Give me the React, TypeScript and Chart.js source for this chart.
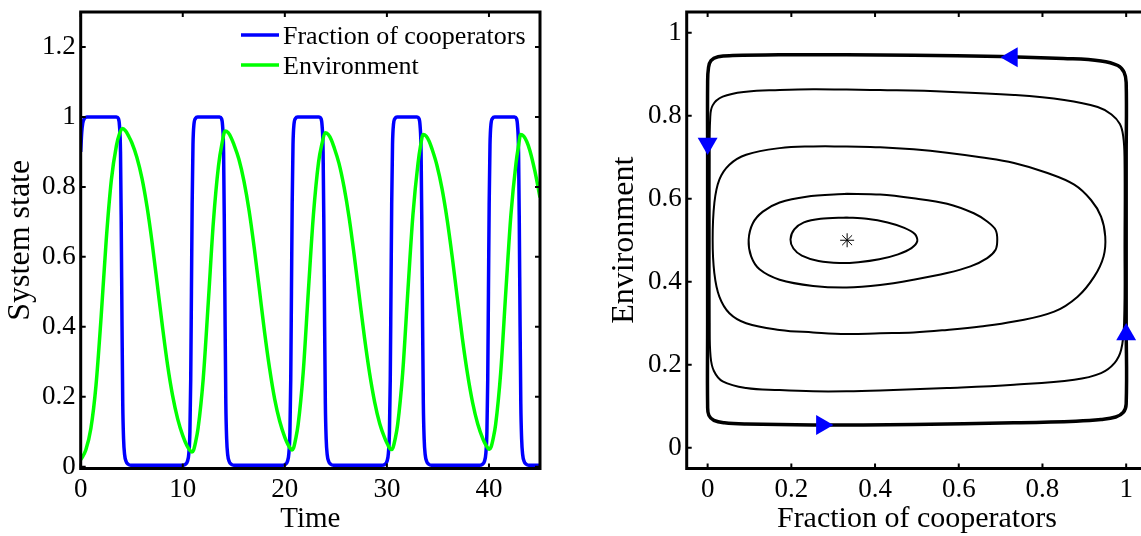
import React, { useEffect, useRef } from 'react';
import Chart from 'chart.js/auto';

const SERIF = '"Liberation Serif", "Times New Roman", serif';

// ---------- Left panel: time series ----------
const timeTicks = [0, 10, 20, 30, 40];
const stateTicks = [0, 0.2, 0.4, 0.6, 0.8, 1, 1.2];

const cooperatorTime = [
  0, 0.1, 0.2, 0.35, 0.6, 3.5, 3.7, 3.8, 3.9, 3.97, 4.05, 4.12, 4.2, 4.3, 4.45, 4.65, 4.9,
  9.95, 10.25, 10.45, 10.6, 10.7, 10.78, 10.85, 10.92, 11.0, 11.1, 11.25, 11.45,
  13.6, 13.8, 13.9, 14.0, 14.07, 14.15, 14.22, 14.3, 14.4, 14.55, 14.75, 15.0,
  19.75, 20.05, 20.25, 20.4, 20.5, 20.58, 20.65, 20.72, 20.8, 20.9, 21.05, 21.25,
  23.35, 23.55, 23.65, 23.75, 23.82, 23.9, 23.97, 24.05, 24.15, 24.3, 24.5, 24.75,
  29.5, 29.8, 30.0, 30.15, 30.25, 30.33, 30.4, 30.47, 30.55, 30.65, 30.8, 31.0,
  32.95, 33.15, 33.25, 33.35, 33.42, 33.5, 33.57, 33.65, 33.75, 33.9, 34.1, 34.35,
  39.05, 39.35, 39.55, 39.7, 39.8, 39.88, 39.95, 40.02, 40.1, 40.2, 40.35, 40.55,
  42.5, 42.7, 42.8, 42.9, 42.97, 43.05, 43.12, 43.2, 43.3, 43.45, 43.65, 43.9, 45,
];
const cooperatorValue = [
  0.9, 0.955, 0.982, 0.995, 1, 1, 0.995, 0.975, 0.9, 0.7, 0.4, 0.18, 0.08, 0.035, 0.015, 0.007, 0.004,
  0.004, 0.007, 0.015, 0.04, 0.1, 0.25, 0.5, 0.75, 0.92, 0.98, 0.996, 1,
  1, 0.995, 0.975, 0.9, 0.7, 0.4, 0.18, 0.08, 0.035, 0.015, 0.007, 0.004,
  0.004, 0.007, 0.015, 0.04, 0.1, 0.25, 0.5, 0.75, 0.92, 0.98, 0.996, 1,
  1, 0.995, 0.975, 0.9, 0.7, 0.4, 0.18, 0.08, 0.035, 0.015, 0.007, 0.004,
  0.004, 0.007, 0.015, 0.04, 0.1, 0.25, 0.5, 0.75, 0.92, 0.98, 0.996, 1,
  1, 0.995, 0.975, 0.9, 0.7, 0.4, 0.18, 0.08, 0.035, 0.015, 0.007, 0.004,
  0.004, 0.007, 0.015, 0.04, 0.1, 0.25, 0.5, 0.75, 0.92, 0.98, 0.996, 1,
  1, 0.995, 0.975, 0.9, 0.7, 0.4, 0.18, 0.08, 0.035, 0.015, 0.007, 0.004, 0.004,
];

const environmentTime = [
  0, 0.5, 1.0, 1.5, 2.0, 2.5, 3.0, 3.5, 3.8, 4.1, 4.4, 4.7, 5.0, 5.5, 6.0, 6.5, 7.0, 7.5, 8.0, 8.5, 9.0, 9.5, 10.0, 10.4, 10.7, 10.9,
  11.05, 11.25, 11.5, 12.0, 12.5, 13.0, 13.5, 13.85, 14.15,
  14.45, 14.75, 15.0, 15.5, 16.0, 16.5, 17.0, 17.5, 18.0, 18.5, 19.0, 19.5, 20.0, 20.3, 20.55, 20.7,
  20.85, 21.05, 21.3, 21.8, 22.3, 22.8, 23.3, 23.65, 23.95,
  24.25, 24.55, 24.8, 25.3, 25.8, 26.3, 26.8, 27.3, 27.8, 28.3, 28.8, 29.3, 29.8, 30.1, 30.3, 30.45,
  30.6, 30.8, 31.05, 31.55, 32.05, 32.55, 33.05, 33.3, 33.55,
  33.85, 34.15, 34.4, 34.9, 35.4, 35.9, 36.4, 36.9, 37.4, 37.9, 38.4, 38.9, 39.4, 39.7, 39.9, 40.05,
  40.2, 40.4, 40.65, 41.15, 41.65, 42.15, 42.65, 42.9, 43.1,
  43.4, 43.7, 44.0, 44.5, 45.0,
];
const environmentValue = [
  0.02, 0.048, 0.11, 0.233, 0.428, 0.648, 0.819, 0.918, 0.952, 0.967, 0.96, 0.945, 0.927, 0.885, 0.825, 0.743, 0.64, 0.522, 0.403, 0.293, 0.204, 0.137, 0.089, 0.061, 0.047, 0.042,
  0.047, 0.07, 0.11, 0.25, 0.47, 0.7, 0.86, 0.925, 0.96,
  0.955, 0.94, 0.922, 0.879, 0.816, 0.732, 0.626, 0.508, 0.388, 0.282, 0.194, 0.13, 0.084, 0.064, 0.052, 0.048,
  0.053, 0.078, 0.12, 0.27, 0.5, 0.72, 0.87, 0.925, 0.955,
  0.95, 0.935, 0.915, 0.868, 0.8, 0.712, 0.604, 0.486, 0.37, 0.268, 0.185, 0.123, 0.081, 0.062, 0.052, 0.049,
  0.055, 0.078, 0.12, 0.27, 0.5, 0.72, 0.868, 0.918, 0.95,
  0.945, 0.93, 0.91, 0.862, 0.795, 0.707, 0.6, 0.482, 0.366, 0.265, 0.183, 0.122, 0.08, 0.062, 0.053, 0.05,
  0.056, 0.079, 0.12, 0.27, 0.5, 0.72, 0.868, 0.918, 0.95,
  0.945, 0.93, 0.905, 0.845, 0.77,
];

// ---------- Right panel: phase plane ----------
const phaseTicks = [0, 0.2, 0.4, 0.6, 0.8, 1];

const orbit1X = [0.332, 0.27, 0.23, 0.207, 0.198, 0.205, 0.225, 0.265, 0.315, 0.36, 0.41, 0.455, 0.487, 0.501, 0.495, 0.47, 0.43, 0.38, 0.332];
const orbit1Y = [0.555, 0.552, 0.543, 0.526, 0.502, 0.48, 0.463, 0.45, 0.445, 0.447, 0.454, 0.466, 0.481, 0.498, 0.515, 0.53, 0.543, 0.552, 0.555];

const orbit2X = [0.332, 0.236, 0.172, 0.132, 0.108, 0.098, 0.104, 0.124, 0.172, 0.252, 0.332, 0.412, 0.492, 0.572, 0.628, 0.668, 0.688, 0.692, 0.688, 0.668, 0.636, 0.572, 0.492, 0.412, 0.332];
const orbit2Y = [0.612, 0.605, 0.591, 0.569, 0.541, 0.501, 0.461, 0.43, 0.405, 0.39, 0.386, 0.392, 0.405, 0.421, 0.437, 0.457, 0.477, 0.501, 0.525, 0.545, 0.565, 0.588, 0.601, 0.61, 0.612];

const orbit3X = [0.332, 0.252, 0.172, 0.092, 0.052, 0.028, 0.016, 0.012, 0.016, 0.028, 0.052, 0.092, 0.172, 0.252, 0.332, 0.412, 0.492, 0.572, 0.652, 0.732, 0.828, 0.884, 0.924, 0.946, 0.95, 0.94, 0.916, 0.876, 0.812, 0.732, 0.652, 0.572, 0.492, 0.412, 0.332];
const orbit3Y = [0.726, 0.726, 0.722, 0.706, 0.682, 0.646, 0.589, 0.501, 0.421, 0.364, 0.324, 0.3, 0.284, 0.278, 0.274, 0.276, 0.278, 0.284, 0.292, 0.304, 0.328, 0.364, 0.413, 0.461, 0.509, 0.557, 0.597, 0.634, 0.662, 0.686, 0.7, 0.711, 0.719, 0.724, 0.726];

const orbit4X = [0.332, 0.252, 0.172, 0.092, 0.036, 0.012, 0.006, 0.005, 0.005, 0.005, 0.007, 0.015, 0.036, 0.092, 0.172, 0.252, 0.332, 0.412, 0.572, 0.732, 0.876, 0.94, 0.972, 0.988, 0.995, 0.996, 0.996, 0.993, 0.985, 0.965, 0.932, 0.852, 0.732, 0.572, 0.412, 0.332];
const orbit4Y = [0.863, 0.864, 0.862, 0.858, 0.846, 0.825, 0.79, 0.7, 0.5, 0.3, 0.22, 0.185, 0.16, 0.144, 0.139, 0.136, 0.136, 0.138, 0.144, 0.152, 0.164, 0.18, 0.204, 0.236, 0.3, 0.5, 0.7, 0.75, 0.78, 0.803, 0.821, 0.838, 0.85, 0.858, 0.862, 0.863];

const orbit5X = [0.332, 0.172, 0.06, 0.025, 0.008, 0.002, 0.0, 0.0, 0.0, 0.0, 0.0, 0.003, 0.015, 0.04, 0.092, 0.252, 0.492, 0.732, 0.88, 0.94, 0.975, 0.993, 1.0, 1.0, 1.0, 1.0, 1.0, 0.995, 0.98, 0.94, 0.85, 0.7, 0.492, 0.332];
const orbit5Y = [0.947, 0.947, 0.945, 0.942, 0.933, 0.915, 0.88, 0.7, 0.5, 0.3, 0.1, 0.078, 0.066, 0.06, 0.057, 0.055, 0.056, 0.06, 0.064, 0.068, 0.074, 0.085, 0.105, 0.3, 0.5, 0.7, 0.88, 0.905, 0.921, 0.932, 0.938, 0.943, 0.946, 0.947];

const arrowX = [0.727, 0.0, 0.273, 1.0];
const arrowY = [0.941, 0.733, 0.055, 0.273];
const arrowRotation = [270, 180, 90, 0];

const fixedPointX = [0.3333];
const fixedPointY = [0.5];

// ---------- helpers ----------
const zip = (xs: number[], ys: number[]) => xs.map((x, i) => ({ x, y: ys[i] }));

const W = 1141;
const H = 536;
const PLOT_TOP = 12;
const PLOT_BOTTOM = 468.5;

const boxPlugin = {
  id: 'matlabBox',
  afterDatasetsDraw(chart: any) {
    const { ctx, chartArea: a, scales } = chart;
    ctx.save();
    ctx.strokeStyle = '#000';
    ctx.lineWidth = 3;
    ctx.strokeRect(a.left, a.top, a.right - a.left, a.bottom - a.top);
    ctx.lineWidth = 2;
    const len = 5;
    ctx.beginPath();
    scales.x.ticks.forEach((t: any) => {
      const p = scales.x.getPixelForValue(t.value);
      ctx.moveTo(p, a.bottom);
      ctx.lineTo(p, a.bottom - len);
      ctx.moveTo(p, a.top);
      ctx.lineTo(p, a.top + len);
    });
    scales.y.ticks.forEach((t: any) => {
      const p = scales.y.getPixelForValue(t.value);
      ctx.moveTo(a.left, p);
      ctx.lineTo(a.left + len, p);
      ctx.moveTo(a.right, p);
      ctx.lineTo(a.right - len, p);
    });
    ctx.stroke();
    ctx.restore();
  },
};

const legendPlugin = {
  id: 'inlineLegend',
  afterDraw(chart: any) {
    const { ctx, chartArea: a } = chart;
    const items = chart.data.datasets
      .filter((d: any) => d.label)
      .map((d: any) => ({ text: d.label, color: d.borderColor }));
    ctx.save();
    ctx.font = `26px ${SERIF}`;
    ctx.textBaseline = 'alphabetic';
    ctx.textAlign = 'left';
    items.forEach((it: any, i: number) => {
      const y = a.top + 23 + i * 30;
      const x0 = a.left + 160.3;
      ctx.strokeStyle = it.color;
      ctx.lineWidth = 3.5;
      ctx.beginPath();
      ctx.moveTo(x0, y);
      ctx.lineTo(x0 + 38, y);
      ctx.stroke();
      ctx.fillStyle = '#000';
      ctx.fillText(it.text, x0 + 42, y + 8.6);
    });
    ctx.restore();
  },
};

function axis(opts: {
  min: number;
  max: number;
  ticks: number[];
  title: string;
  horizontal: boolean;
  size: number;
  titleSize: number;
  titlePad: number;
}) {
  return {
    type: 'linear' as const,
    position: opts.horizontal ? ('bottom' as const) : ('left' as const),
    min: opts.min,
    max: opts.max,
    afterBuildTicks: (s: any) => {
      s.ticks = opts.ticks.map((v) => ({ value: v }));
    },
    afterFit: (s: any) => {
      if (opts.horizontal) s.height = opts.size;
      else s.width = opts.size;
      s.paddingTop = 0;
      s.paddingBottom = 0;
      s.paddingLeft = 0;
      s.paddingRight = 0;
    },
    grid: { display: false, drawTicks: false },
    border: { display: false },
    ticks: {
      color: '#000',
      font: { family: SERIF, size: 27 },
      padding: 5,
      maxRotation: 0,
      autoSkip: false,
      callback: (v: any) => String(v),
    },
    title: {
      display: true,
      text: opts.title,
      color: '#000',
      font: { family: SERIF, size: opts.titleSize, lineHeight: 1 },
      padding: opts.horizontal ? { top: 0, bottom: opts.titlePad } : { top: opts.titlePad, bottom: 0 },
    },
  };
}

export default function App() {
  const leftRef = useRef<HTMLCanvasElement>(null);
  const rightRef = useRef<HTMLCanvasElement>(null);

  useEffect(() => {
    Chart.defaults.font.family = SERIF;

    const left = new Chart(leftRef.current as HTMLCanvasElement, {
      type: 'scatter',
      data: {
        datasets: [
          {
            label: 'Fraction of cooperators',
            data: zip(cooperatorTime, cooperatorValue),
            showLine: true,
            borderColor: '#0000ff',
            backgroundColor: '#0000ff',
            borderWidth: 3.5,
            pointRadius: 0,
            cubicInterpolationMode: 'monotone',
            order: 1,
          },
          {
            label: 'Environment',
            data: zip(environmentTime, environmentValue),
            showLine: true,
            borderColor: '#00ff00',
            backgroundColor: '#00ff00',
            borderWidth: 3.5,
            pointRadius: 0,
            cubicInterpolationMode: 'monotone',
            order: 0,
          },
        ],
      },
      options: {
        responsive: false,
        animation: false,
        events: [],
        layout: { padding: { top: PLOT_TOP, right: 590 - 540, left: 0, bottom: 0 } },
        plugins: { legend: { display: false }, tooltip: { enabled: false } },
        scales: {
          x: axis({ min: 0, max: 45, ticks: timeTicks, title: 'Time', horizontal: true, size: H - PLOT_BOTTOM, titleSize: 29, titlePad: 1.8 }),
          y: axis({ min: -0.005, max: 1.3, ticks: stateTicks, title: 'System state', horizontal: false, size: 80.7, titleSize: 32, titlePad: 4.5 }),
        },
      } as any,
      plugins: [boxPlugin, legendPlugin],
    });

    const orbitStyle = (pts: { x: number; y: number }[], width: number, tension: number) => ({
      data: pts,
      showLine: true,
      borderColor: '#000',
      backgroundColor: '#000',
      borderWidth: width,
      pointRadius: 0,
      tension,
      order: 2,
    });

    const right = new Chart(rightRef.current as HTMLCanvasElement, {
      type: 'scatter',
      data: {
        datasets: [
          orbitStyle(zip(orbit1X, orbit1Y), 2, 0.3),
          orbitStyle(zip(orbit2X, orbit2Y), 2, 0.3),
          orbitStyle(zip(orbit3X, orbit3Y), 2, 0.4),
          orbitStyle(zip(orbit4X, orbit4Y), 2, 0.4),
          orbitStyle(zip(orbit5X, orbit5Y), 3.5, 0.4),
          {
            data: zip(arrowX, arrowY),
            showLine: false,
            pointStyle: 'triangle',
            rotation: arrowRotation,
            pointRadius: 11.5,
            backgroundColor: '#0000ff',
            borderColor: '#0000ff',
            borderWidth: 0,
            order: 0,
          },
          {
            data: zip(fixedPointX, fixedPointY),
            showLine: false,
            pointStyle: 'star',
            pointRadius: 7,
            borderColor: '#000',
            backgroundColor: '#000',
            borderWidth: 1,
            order: 0,
          },
        ],
      },
      options: {
        responsive: false,
        animation: false,
        events: [],
        layout: { padding: { top: PLOT_TOP, right: 12.9, left: 0, bottom: 0 } },
        plugins: { legend: { display: false }, tooltip: { enabled: false } },
        scales: {
          x: axis({ min: -0.05, max: 1.05, ticks: phaseTicks, title: 'Fraction of cooperators', horizontal: true, size: H - PLOT_BOTTOM, titleSize: 30, titlePad: 1.8 }),
          y: axis({ min: -0.05, max: 1.05, ticks: phaseTicks, title: 'Environment', horizontal: false, size: 86.7, titleSize: 32, titlePad: 9 }),
        },
      } as any,
      plugins: [boxPlugin],
    });

    return () => {
      left.destroy();
      right.destroy();
    };
  }, []);

  return (
    <div style={{ position: 'fixed', left: 0, top: 0, width: W, height: H, overflow: 'hidden', background: '#fff' }}>
      <div style={{ position: 'absolute', left: 0, top: 0, width: 590, height: H }}>
        <canvas ref={leftRef} width={590} height={H} style={{ display: 'block', width: 590, height: H }} />
      </div>
      <div style={{ position: 'absolute', left: 600, top: 0, width: 560, height: H }}>
        <canvas ref={rightRef} width={560} height={H} style={{ display: 'block', width: 560, height: H }} />
      </div>
    </div>
  );
}
